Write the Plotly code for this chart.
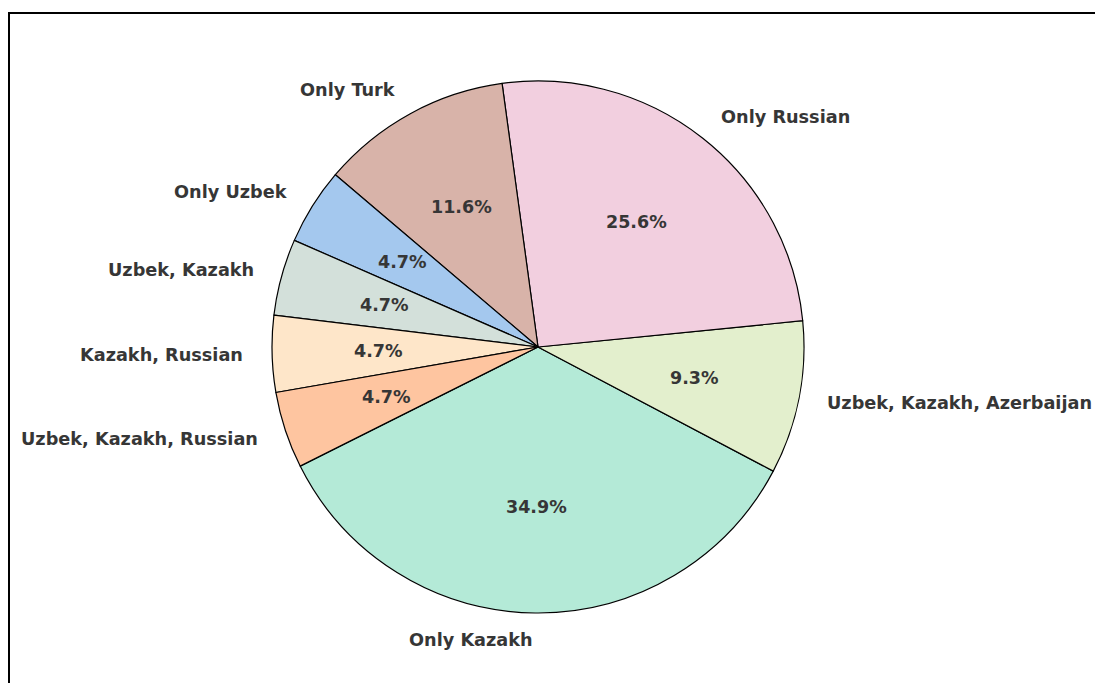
import math
import plotly.graph_objects as go

# Data (counts inferred from percentages, total 43)
labels = ["Only Kazakh", "Uzbek, Kazakh, Azerbaijan", "Only Russian", "Only Turk",
          "Only Uzbek", "Uzbek, Kazakh", "Kazakh, Russian", "Uzbek, Kazakh, Russian"]
counts = [15, 4, 11, 5, 2, 2, 2, 2]
colors = ["#b4ead7", "#e3efcd", "#f2cfdf", "#d8b3a9",
          "#a4c8ee", "#d3e0da", "#fee6c9", "#fec5a0"]

W, H = 1095, 683
cx, cy, R = 538.0, 347.0, 266.0       # pie centre / radius in pixels
start_deg = 206.6                     # math angle where first slice starts (counter-clockwise)
total = sum(counts)
first_span = counts[0] / total * 360.0

fig = go.Figure()
fig.add_trace(go.Pie(
    labels=labels, values=counts, sort=False,
    direction="counterclockwise", rotation=90 - (start_deg + first_span),
    marker=dict(colors=colors, line=dict(color="black", width=1.2)),
    textinfo="none", hoverinfo="label+percent", showlegend=False,
    domain=dict(x=[(cx - R) / W, (cx + R) / W], y=[1 - (cy + R) / H, 1 - (cy - R) / H]),
))

font_lbl = dict(family="DejaVu Sans", size=17.7, color="#363636", weight="bold")
font_pct = dict(family="DejaVu Sans", size=17.5, color="#363636", weight="bold")
ang = start_deg
annotations = []
for lab, v in zip(labels, counts):
    span = v / total * 360.0
    mid = math.radians(ang + span / 2)
    ang += span
    c, s = math.cos(mid), math.sin(mid)
    # outer label at 1.1 r
    lx, ly = cx + 1.1 * R * c, cy - 1.1 * R * s
    annotations.append(dict(
        x=lx / W, y=1 - ly / H, xref="paper", yref="paper", text=lab, showarrow=False,
        xanchor="left" if c > 0 else "right", yanchor="middle", font=font_lbl))
    # percentage at 0.6 r
    px, py = cx + 0.6 * R * c, cy - 0.6 * R * s
    annotations.append(dict(
        x=px / W, y=1 - py / H, xref="paper", yref="paper",
        text=f"{v / total * 100:.1f}%", showarrow=False,
        xanchor="center", yanchor="middle", font=font_pct))

fig.update_layout(
    width=W, height=H, margin=dict(l=0, r=0, t=0, b=0),
    paper_bgcolor="white", plot_bgcolor="white",
    annotations=annotations,
    shapes=[dict(type="rect", xref="paper", yref="paper",
                 x0=9 / W, x1=1.05, y0=-0.05, y1=1 - 13 / H,
                 line=dict(color="black", width=2), fillcolor="rgba(0,0,0,0)")],
)

fig.write_html("out.html", config={"displayModeBar": False},
               post_script="document.body.style.margin='0';document.body.style.overflow='hidden';")
